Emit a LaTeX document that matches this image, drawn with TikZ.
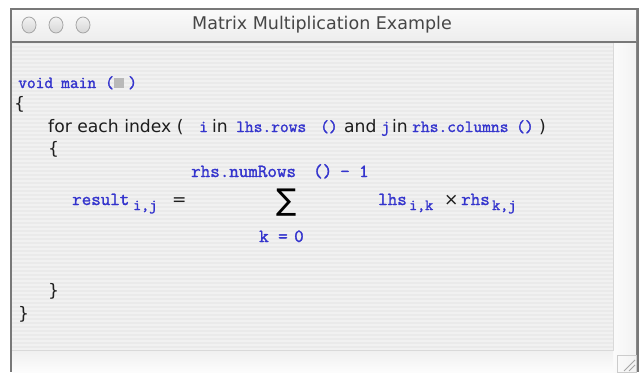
\documentclass[tikz,border=0pt]{standalone}
\usepackage{fontspec}
\setmainfont{DejaVu Sans}
\newfontfamily\monof{Latin Modern Mono}[FakeBold=1.6]
\newfontfamily\sansf{DejaVu Sans}
\definecolor{codeblue}{RGB}{52,52,205}
\definecolor{framegray}{RGB}{120,120,120}
\definecolor{contentbg}{RGB}{234,234,234}
\definecolor{stripe}{RGB}{241,241,241}
\definecolor{textdark}{RGB}{30,30,30}
\definecolor{titletext}{RGB}{70,70,70}
\tikzset{
  code/.style={inner sep=0pt, text=codeblue, font=\monof\fontsize{17}{18}\selectfont},
  mathcode/.style={inner sep=0pt, text=codeblue, font=\monof\fontsize{18.5}{20}\selectfont},
  codesub/.style={inner sep=0pt, text=codeblue, font=\monof\fontsize{15.5}{17}\selectfont},
  plain/.style={inner sep=0pt, text=textdark, font=\sansf\fontsize{17.2}{19}\selectfont},
  winbtn/.style={draw=gray!70, line width=0.8pt, top color=gray!10, bottom color=gray!32}
}
\begin{document}
\begin{tikzpicture}[x=1pt,y=-1pt]
\useasboundingbox (0,0) rectangle (639,372);
\fill[white] (0,0) rectangle (639,372);
% window frame
\fill[framegray] (10,8) rectangle (639,372);
\shade[top color=white!96!gray, bottom color=white!86!gray] (12,10) rectangle (636,41);
\fill[framegray] (12,41) rectangle (636,43);
% content
\fill[contentbg] (12,43) rectangle (613,350);
\foreach \yy in {45,49,...,349} \draw[stripe, line width=1.6pt] (12,\yy) -- (613,\yy);
% scroll strips
\shade[left color=white!97!gray, right color=white!90!gray] (613,43) rectangle (636,372);
\shade[top color=white!88!gray, bottom color=white!98!gray] (12,350) rectangle (613,372);
\draw[gray!30] (613,43) -- (613,350) -- (12,350);
\draw[gray!40] (617,355) rectangle (636,372);
\draw[gray!70, line width=0.8pt] (624,371) -- (635,360) (629,371) -- (635,365);
% title bar buttons
\shade[winbtn] (29,25) ellipse (7 and 8);
\shade[winbtn] (56,25) ellipse (7 and 8);
\shade[winbtn] (83,25) ellipse (7 and 8);
\node[inner sep=0pt, text=titletext, font=\sansf\fontsize{17.5}{19}\selectfont] (title) at (322,25) {Matrix Multiplication Example};
% line 1
\node[code, anchor=base west] (void) at (18,88) {void};
\node[code, anchor=base west] (main) at (61,88) {main};
\node[code, anchor=base west] (lp) at (105,88) {(};
\fill[gray!55] (114,78) rectangle (124,88);
\node[code, anchor=base west] (rp) at (128,88) {)};
\node[plain, anchor=base west] (ob1) at (14,109) {\{};
% line 3
\node[plain, anchor=base west] (for) at (48,132) {for each index (};
\node[code, anchor=base west] (i) at (199,132) {i};
\node[plain, anchor=base west] (in1) at (212,132) {in};
\node[code, anchor=base west] (lrows) at (236,132) {lhs.rows};
\node[code, anchor=base west] (lrp) at (320,132) {()};
\node[plain, anchor=base west] (and) at (344,132) {and};
\node[code, anchor=base west] (j) at (381,132) {j};
\node[plain, anchor=base west] (in2) at (392,132) {in};
\node[code, anchor=base west] (rcols) at (412,132) {rhs.columns};
\node[code, anchor=base west] (rcp) at (516,132) {()};
\node[plain, anchor=base west] (close1) at (539,132) {)};
\node[plain, anchor=base west] (ob2) at (48,154) {\{};
% sum upper limit
\node[mathcode, anchor=base west] (numrows) at (191,177) {rhs.numRows};
\node[mathcode, anchor=base west] (nrp) at (313,177) {()};
\node[mathcode, anchor=base west] (minus) at (340,177) {-};
\node[mathcode, anchor=base west] (one) at (359,177) {1};
% result line
\node[mathcode, anchor=base west] (result) at (72,205) {result};
\node[codesub, anchor=base west] (rsub) at (133,210) {i,j};
\node[plain, anchor=base west] (eq) at (172,205) {=};
\node[inner sep=0pt, text=black, font=\sansf\fontsize{30}{30}\selectfont] (sigma) at (287,203) {∑};
\node[mathcode, anchor=base west] (k) at (259,242) {k};
\node[mathcode, anchor=base west] (keq) at (278,242) {=};
\node[mathcode, anchor=base west] (zero) at (294,242) {0};
\node[mathcode, anchor=base west] (lhs) at (378,205) {lhs};
\node[codesub, anchor=base west] (lsub) at (409,210) {i,k};
\node[plain, anchor=base west] (times) at (444,205) {×};
\node[mathcode, anchor=base west] (rhs) at (461,205) {rhs};
\node[codesub, anchor=base west] (rsub2) at (492,210) {k,j};
% closing braces
\node[plain, anchor=base west] (cb2) at (48,296) {\}};
\node[plain, anchor=base west] (cb1) at (18,319) {\}};
\end{tikzpicture}
\end{document}
